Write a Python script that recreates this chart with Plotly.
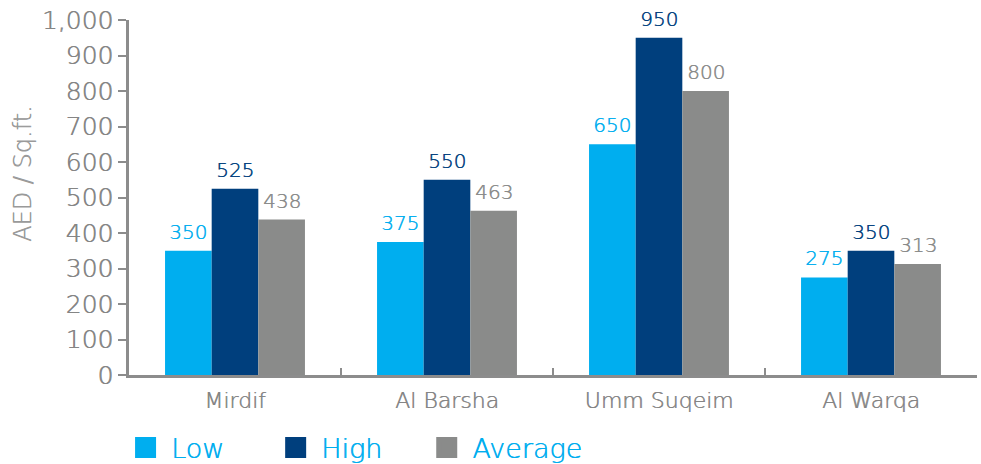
import plotly.graph_objects as go

# Rental rates by area (AED per sq.ft.)
areas = ["Mirdif", "Al Barsha", "Umm Suqeim", "Al Warqa"]
low = [350, 375, 650, 275]
high = [525, 550, 950, 350]
average = [438, 463, 800, 313]

series = [
    ("Low", low, "#00AEEF"),
    ("High", high, "#003F7D"),
    ("Average", average, "#8A8B8A"),
]

FONT = "DejaVu Sans"
W = 200
GRAY = "#8C8C8C"
TEXT_GRAY = "#858585"
BARGAP = 0.34


def txt(size, color):
    # light face, slightly thickened with a one-sided shadow
    return dict(family=FONT, size=size, color=color, weight=W,
                shadow=f"0.55px 0px 0px {color}")


fig = go.Figure()
for name, vals, color in series:
    fig.add_trace(go.Bar(
        x=areas, y=vals, name=name,
        marker=dict(color=color, line=dict(width=0)),
        showlegend=False,
    ))

# Value labels above each bar, centred on the bar within its group
n = len(series)
bar_w = (1 - BARGAP) / n
annotations = []
for j, (name, vals, color) in enumerate(series):
    for i, v in enumerate(vals):
        annotations.append(dict(
            x=i + (j - (n - 1) / 2) * bar_w, y=v,
            xref="x", yref="y", text=str(v),
            showarrow=False, xanchor="center", yanchor="bottom", yshift=5,
            font=txt(20, color),
        ))

annotations.append(dict(
    text="AED / Sq.ft.", textangle=-90,
    xref="paper", x=0, xanchor="center", xshift=-106,
    yref="paper", y=0.566, yanchor="middle",
    showarrow=False,
    font=txt(24, "#9A9A9A"),
))

# One legend per series so each entry sits at its own spot along the bottom
legend_names = ["legend", "legend2", "legend3"]
legend_x = [0.128, 0.281, 0.435]
legends = {}
for (name, vals, color), lg, lx in zip(series, legend_names, legend_x):
    fig.add_trace(go.Scatter(
        x=[None], y=[None], mode="markers", name="\u2009" + name,
        marker=dict(symbol="square", size=16, color=color,
                    line=dict(color=color, width=5)),
        showlegend=True, legend=lg,
    ))
    legends[lg] = dict(
        orientation="h",
        xref="container", x=lx, xanchor="left",
        yref="container", y=0.0345, yanchor="middle",
        font=txt(27, "#00AEEF"),
        bgcolor="rgba(0,0,0,0)",
    )

fig.update_layout(
    width=981, height=464,
    margin=dict(l=129, r=4, t=20, b=89),
    plot_bgcolor="white", paper_bgcolor="white",
    barmode="group", bargap=BARGAP, bargroupgap=0,
    font=dict(family=FONT, color=GRAY, weight=W),
    xaxis=dict(
        showline=True, linecolor=GRAY, linewidth=2.5,
        ticks="inside", ticklen=7, tickwidth=2, tickcolor=GRAY,
        tickson="boundaries", ticklabelstandoff=4,
        tickfont=txt(22, TEXT_GRAY),
        showgrid=False,
    ),
    yaxis=dict(
        range=[0, 1000], dtick=100, tickformat=",",
        showline=True, linecolor=GRAY, linewidth=2.5,
        ticks="outside", ticklen=8, tickwidth=2, tickcolor=GRAY,
        tickfont=txt(25, TEXT_GRAY),
        showgrid=False, zeroline=False,
    ),
    annotations=annotations,
    **legends,
)

fig.write_html("out.html")
